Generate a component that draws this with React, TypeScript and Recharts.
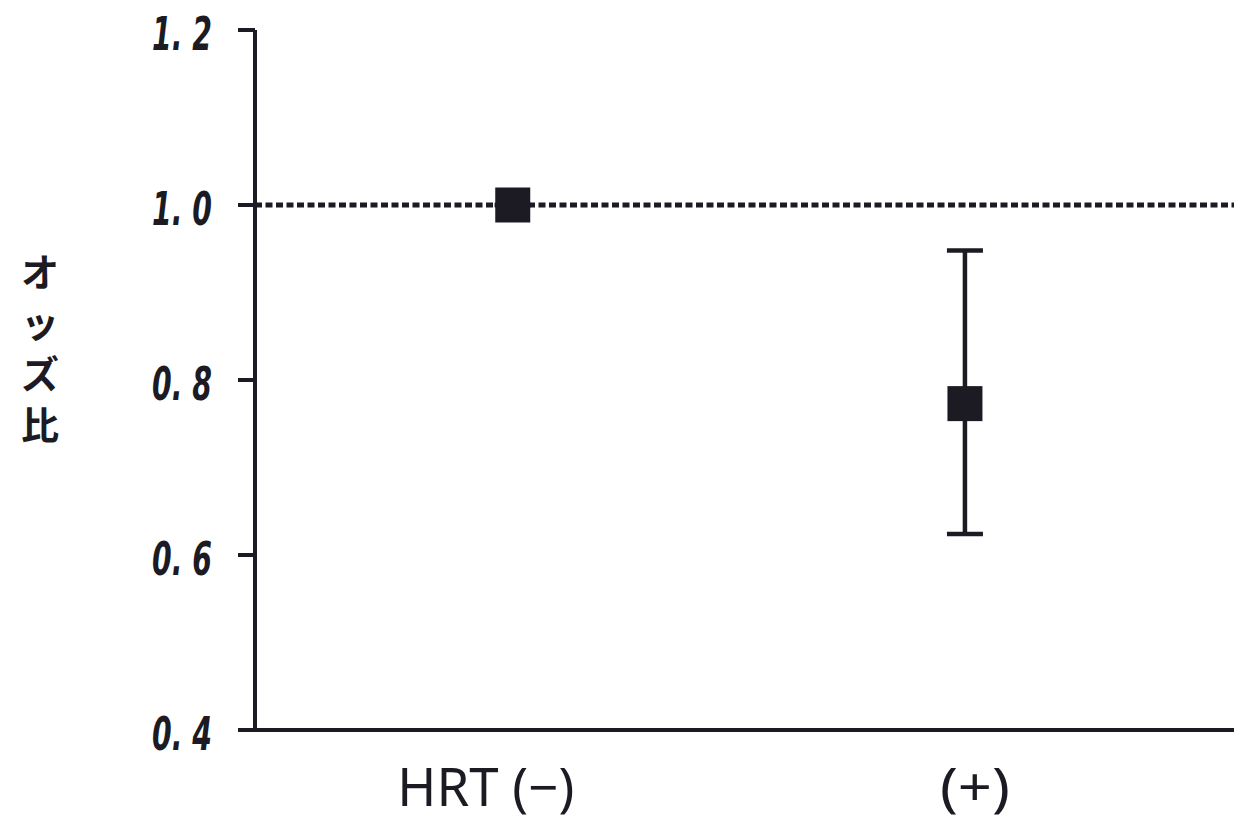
import React from 'react';
import {
  ScatterChart,
  Scatter,
  XAxis,
  YAxis,
  ZAxis,
  ErrorBar,
  ReferenceLine,
  Label
} from 'recharts';

// categories and odds ratios
const categories = ['HRT (−)', '(+)'];
const oddsRatio = [1.0, 0.773];
const ciLower = [1.0, 0.624];
const ciUpper = [1.0, 0.948];
const yTicks = [0.4, 0.6, 0.8, 1.0, 1.2];
const yLabelChars = ['オ', 'ッ', 'ズ', '比'];

const data = categories.map((name, i) => ({
  x: i + 1,
  name,
  value: oddsRatio[i],
  err: [oddsRatio[i] - ciLower[i], ciUpper[i] - oddsRatio[i]]
}));

const INK = '#1c1a22';

const YTick = (props: any) => {
  const { x, y, payload } = props;
  const txt = Number(payload.value).toFixed(1).replace('.', '. ');
  return (
    <text
      x={x}
      y={y + 4}
      textAnchor="end"
      dominantBaseline="central"
      fontFamily="'DejaVu Sans Condensed', 'DejaVu Sans', sans-serif"
      fontStyle="italic"
      fontWeight="bold"
      fontSize={46}
      textLength={60}
      lengthAdjust="spacingAndGlyphs"
      fill={INK}
    >
      {txt}
    </text>
  );
};

const XTick = (props: any) => {
  const { x, y, payload } = props;
  const idx = Math.round(payload.value) - 1;
  const name = categories[idx];
  if (!name) return null;
  const shift = idx === 0 ? -27 : 10;
  const len = idx === 0 ? 177 : 70;
  return (
    <text
      x={x + shift}
      y={y + 68}
      textAnchor="middle"
      fontFamily="'Noto Sans', 'DejaVu Sans', sans-serif"
      fontSize={52}
      textLength={len}
      lengthAdjust="spacingAndGlyphs"
      fill={INK}
    >
      {name}
    </text>
  );
};

const SquareDot = (props: any) => {
  const { cx, cy } = props;
  const s = 35;
  return <rect x={cx - s / 2} y={cy - s / 2} width={s} height={s} fill={INK} />;
};

const YLabel = (props: any) => {
  const { viewBox } = props;
  const cy = viewBox.y + viewBox.height / 2;
  const startY = cy - 111;
  return (
    <g>
      {yLabelChars.map((c, i) => (
        <text
          key={i}
          x={40}
          y={startY + i * 51}
          dominantBaseline="central"
          textAnchor="middle"
          fontFamily="'Noto Sans CJK JP', sans-serif"
          fontWeight="bold"
          fontSize={38}
          fill={INK}
        >
          {c}
        </text>
      ))}
    </g>
  );
};

export default function App() {
  return (
    <div
      style={{
        position: 'absolute',
        left: 0,
        top: 0,
        width: 1234,
        height: 824,
        overflow: 'hidden',
        background: '#fff'
      }}
    >
      <ScatterChart
        width={1234}
        height={824}
        margin={{ top: 30, right: 0, bottom: 4, left: 135 }}
      >
        <XAxis
          type="number"
          dataKey="x"
          domain={[0.43, 2.595]}
          ticks={[1, 2]}
          allowDataOverflow
          tick={<XTick />}
          tickLine={false}
          axisLine={{ stroke: INK, strokeWidth: 4 }}
          height={90}
        />
        <YAxis
          type="number"
          dataKey="value"
          domain={[0.4, 1.2]}
          ticks={yTicks}
          allowDataOverflow
          width={120}
          tick={<YTick />}
          tickSize={17}
          tickMargin={26}
          tickLine={{ stroke: INK, strokeWidth: 4 }}
          axisLine={{ stroke: INK, strokeWidth: 4 }}
        >
          <Label content={<YLabel />} />
        </YAxis>
        <ZAxis range={[1200, 1200]} />
        <ReferenceLine
          y={1.0}
          stroke={INK}
          strokeWidth={5}
          strokeDasharray="7 3.5"
        />
        <Scatter
          data={data}
          fill={INK}
          shape={<SquareDot />}
          isAnimationActive={false}
        >
          <ErrorBar
            dataKey="err"
            direction="y"
            width={18}
            stroke={INK}
            strokeWidth={4.5}
            isAnimationActive={false}
          />
        </Scatter>
      </ScatterChart>
    </div>
  );
}
